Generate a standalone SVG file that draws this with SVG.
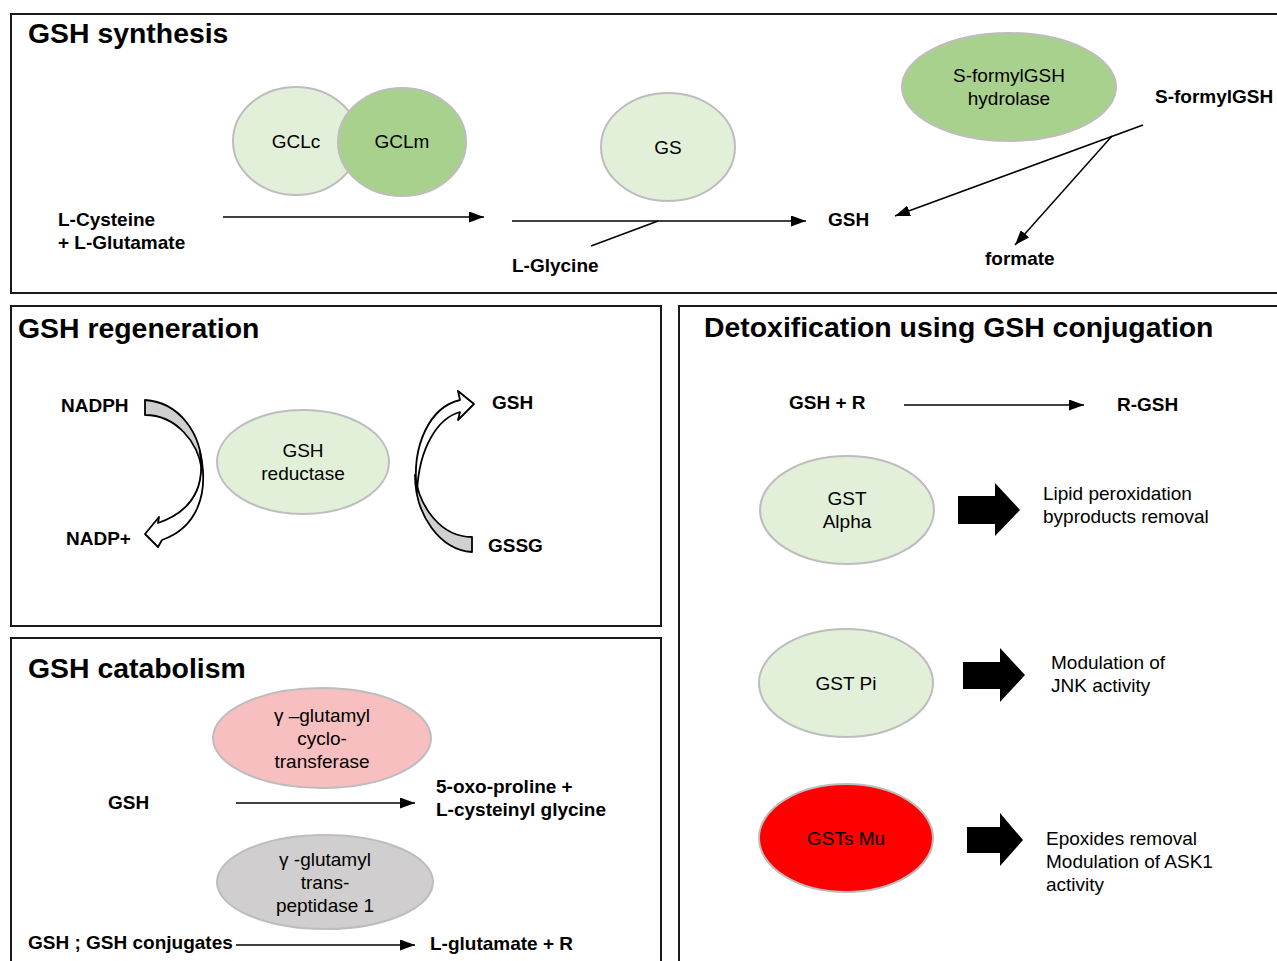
<svg xmlns="http://www.w3.org/2000/svg" width="1277" height="961" viewBox="0 0 1277 961">
<defs>
<marker id="ah" viewBox="0 0 15 11" refX="15" refY="5.5" markerWidth="15" markerHeight="11" markerUnits="userSpaceOnUse" orient="auto">
<path d="M0,0 L15,5.5 L0,11 Z" fill="#000"/>
</marker>
<style>
.panel{fill:none;stroke:#1a1a1a;stroke-width:2}
.title{font-family:"Liberation Sans",Arial,sans-serif;font-weight:bold;font-size:28.4px;fill:#000}
.b{font-family:"Liberation Sans",Arial,sans-serif;font-weight:bold;font-size:19px;fill:#000}
.r{font-family:"Liberation Sans",Arial,sans-serif;font-size:19px;fill:#000}
.c{text-anchor:middle}
.enz{stroke:#bdbdbd;stroke-width:2}
.lg{fill:#e2efd9}
.dg{fill:#a9d18e}
.conn{stroke:#000;stroke-width:1.5;fill:none}
.blk{fill:#000}
.curv{stroke:#000;stroke-width:1.8;stroke-linejoin:round}
</style>
</defs>
<rect width="1277" height="961" fill="#fff"/>

<!-- panels -->
<g id="panels">
<rect class="panel" x="11" y="14" width="1290" height="279"/>
<rect class="panel" x="11" y="306" width="650" height="320"/>
<rect class="panel" x="11" y="638" width="650" height="340"/>
<rect class="panel" x="679" y="306" width="620" height="680"/>
</g>

<!-- titles -->
<text class="title" x="28" y="43">GSH synthesis</text>
<text class="title" x="18" y="338">GSH regeneration</text>
<text class="title" x="28" y="678">GSH catabolism</text>
<text class="title" x="704" y="337">Detoxification using GSH conjugation</text>

<!-- connectors -->
<g id="connectors">
<line class="conn" x1="223" y1="217" x2="484" y2="217" marker-end="url(#ah)"/>
<line class="conn" x1="512" y1="221" x2="806" y2="221" marker-end="url(#ah)"/>
<line class="conn" x1="591" y1="246" x2="658" y2="221"/>
<line class="conn" x1="1143" y1="125" x2="895" y2="216" marker-end="url(#ah)"/>
<line class="conn" x1="1112" y1="136" x2="1015" y2="245" marker-end="url(#ah)"/>
<line class="conn" x1="236" y1="803" x2="415" y2="803" marker-end="url(#ah)"/>
<line class="conn" x1="236" y1="945" x2="415" y2="945" marker-end="url(#ah)"/>
<line class="conn" x1="904" y1="405" x2="1084" y2="405" marker-end="url(#ah)"/>
<path class="blk" d="M958,496 H995 V483 L1020,510 L995,536 V524 H958 Z"/>
<path class="blk" d="M963,662 H1000 V648 L1025,675 L1000,702 V689 H963 Z"/>
<path class="blk" d="M967,827 H1000 V813 L1023,840 L1000,866 V853 H967 Z"/>
<!-- curved arrows regeneration -->
<path class="curv" fill="#d0d0d0" d="M145,400 C178,402 202,432 202,470 C198,442 176,415 145,415 Z"/>
<path class="curv" fill="#fff" d="M200,452 C206,490 190,512 158,523 L159,517 L145,534 L158,547 L162,540 C196,528 210,495 200,452 Z"/>
<path class="curv" fill="#d0d0d0" d="M472,552 C440,550 415,515 415,475 C419,507 441,537 472,537 Z"/>
<path class="curv" fill="#fff" d="M417,492 C411,445 430,407 460,400 L458,391 L474,404 L458,420 L460,412 C438,418 419,447 417,492 Z"/>
</g>

<!-- synthesis nodes -->
<g id="GCLc"><ellipse class="enz lg" cx="296" cy="141" rx="63" ry="54"/><text class="r c" x="296" y="148">GCLc</text></g>
<g id="GCLm"><ellipse class="enz dg" cx="402" cy="142" rx="64" ry="54"/><text class="r c" x="402" y="148">GCLm</text></g>
<g id="GS"><ellipse class="enz lg" cx="668" cy="147" rx="67" ry="54"/><text class="r c" x="668" y="154">GS</text></g>
<g id="SformylGSHhydrolase"><ellipse class="enz dg" cx="1009" cy="87" rx="107" ry="54"/><text class="r c" x="1009" y="82">S-formylGSH</text><text class="r c" x="1009" y="105">hydrolase</text></g>
<g id="substrates1"><text class="b" x="58" y="226">L-Cysteine</text><text class="b" x="58" y="249">+ L-Glutamate</text></g>
<g id="LGlycine"><text class="b" x="512" y="272">L-Glycine</text></g>
<g id="GSH1"><text class="b" x="828" y="226">GSH</text></g>
<g id="SformylGSH"><text class="b" x="1155" y="103">S-formylGSH</text></g>
<g id="formate"><text class="b" x="985" y="265">formate</text></g>

<!-- regeneration -->
<g id="NADPH"><text class="b" x="61" y="412">NADPH</text></g>
<g id="NADP"><text class="b" x="66" y="545">NADP+</text></g>
<g id="GSHreductase"><ellipse class="enz lg" cx="303" cy="462" rx="86" ry="52"/><text class="r c" x="303" y="457">GSH</text><text class="r c" x="303" y="480">reductase</text></g>
<g id="GSH2"><text class="b" x="492" y="409">GSH</text></g>
<g id="GSSG"><text class="b" x="488" y="552">GSSG</text></g>

<!-- catabolism -->
<g id="GGCT"><ellipse class="enz" fill="#f7bfbf" cx="322" cy="738" rx="109" ry="50"/><text class="r c" x="322" y="722">γ –glutamyl</text><text class="r c" x="322" y="745">cyclo-</text><text class="r c" x="322" y="768">transferase</text></g>
<g id="GSH3"><text class="b" x="108" y="809">GSH</text></g>
<g id="oxoproline"><text class="b" x="436" y="793">5-oxo-proline +</text><text class="b" x="436" y="816">L-cysteinyl glycine</text></g>
<g id="GGT1"><ellipse class="enz" fill="#d0cece" cx="325" cy="882" rx="108" ry="47"/><text class="r c" x="325" y="866">γ -glutamyl</text><text class="r c" x="325" y="889">trans-</text><text class="r c" x="325" y="912">peptidase 1</text></g>
<g id="GSHconj"><text class="b" x="28" y="949">GSH ; GSH conjugates</text></g>
<g id="Lglutamate"><text class="b" x="430" y="950">L-glutamate + R</text></g>

<!-- detox -->
<g id="GSHR"><text class="b" x="789" y="409">GSH + R</text></g>
<g id="RGSH"><text class="b" x="1117" y="411">R-GSH</text></g>
<g id="GSTAlpha"><ellipse class="enz lg" cx="847" cy="510" rx="87" ry="54"/><text class="r c" x="847" y="505">GST</text><text class="r c" x="847" y="528">Alpha</text></g>
<g id="lipid"><text class="r" x="1043" y="500">Lipid peroxidation</text><text class="r" x="1043" y="523">byproducts removal</text></g>
<g id="GSTPi"><ellipse class="enz lg" cx="846" cy="683" rx="87" ry="54"/><text class="r c" x="846" y="690">GST Pi</text></g>
<g id="JNK"><text class="r" x="1051" y="669">Modulation of</text><text class="r" x="1051" y="692">JNK activity</text></g>
<g id="GSTMu"><ellipse class="enz" fill="#ff0000" cx="846" cy="838" rx="87" ry="54"/><text class="r c" x="846" y="845">GSTs Mu</text></g>
<g id="epox"><text class="r" x="1046" y="845">Epoxides removal</text><text class="r" x="1046" y="868">Modulation of ASK1</text><text class="r" x="1046" y="891">activity</text></g>
</svg>
